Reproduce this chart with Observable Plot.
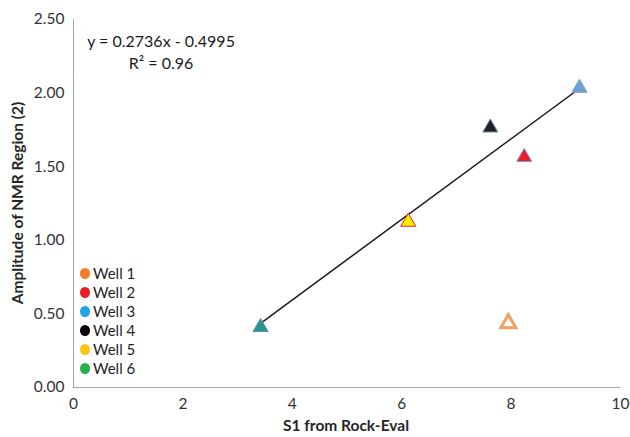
<!DOCTYPE html>
<html>
<head>
<meta charset="utf-8">
<script src="https://cdn.jsdelivr.net/npm/d3@7"></script>
<script src="https://cdn.jsdelivr.net/npm/@observablehq/plot@0.6"></script>
<style>
  html, body { margin: 0; padding: 0; background: #fff; }
  #chart { position: relative; width: 630px; height: 437px; font-family: Lato, "Open Sans", sans-serif; }
  #legend { position: absolute; left: 80px; top: 264px; font-size: 15px; color: #1f1f1f; }
  #legend div { height: 19px; line-height: 19px; display: flex; align-items: center; }
  #legend span.sw { width: 10px; height: 11px; border-radius: 50%; display: inline-block; margin-right: 3px; }
</style>
</head>
<body>
<div id="chart"></div>
<script>
// Wells and their measurements: S1 (Rock-Eval) vs NMR region (2) amplitude
const wells = ["Well 1", "Well 2", "Well 3", "Well 4", "Well 5", "Well 6"];
const legendColors = ["#f47b2a", "#ed1c24", "#1ca4e4", "#000000", "#ffc20e", "#22b14c"];

const s1 = [7.95, 8.24, 9.25, 7.62, 6.12, 3.42];
const nmr = [0.435, 1.565, 2.035, 1.765, 1.125, 0.41];
const fills = ["none", "#ed1c24", "#6f9fd6", "#231f20", "#fff200", "#2e9488"];
const strokes = ["#f0a060", "#7a9cc8", "#7a9cc8", "#6d8fc4", "#ed1c24", "#5f8fb8"];
const strokeWidths = [3, 1, 1, 1, 1, 1];

// Trendline fitted through wells 2-6
const slope = 0.2736;
const intercept = -0.4995;
const r2 = 0.96;

const xTicks = [0, 2, 4, 6, 8, 10];
const yTicks = [0, 0.5, 1, 1.5, 2, 2.5];

const points = wells.map((w, i) => ({
  well: w, x: s1[i], y: nmr[i], fill: fills[i], stroke: strokes[i], sw: strokeWidths[i]
}));

const fitted = points.filter(p => p.well !== "Well 1");
const x0 = d3.min(fitted, p => p.x);
const x1 = d3.max(fitted, p => p.x);
const trend = [x0, x1].map(x => ({x, y: slope * x + intercept}));

const equation = intercept < 0 ? `y = ${slope}x - ${Math.abs(intercept)}` : `y = ${slope}x + ${intercept}`;

const chart = Plot.plot({
  width: 630,
  height: 437,
  marginLeft: 73,
  marginRight: 10,
  marginTop: 19,
  marginBottom: 50,
  style: { fontFamily: "Lato, 'Open Sans', sans-serif", fontSize: "15px", color: "#404040", background: "#fff" },
  x: { domain: [0, 10], ticks: xTicks, tickSize: 0, tickPadding: 10, tickFormat: d3.format("d"), label: null },
  y: { domain: [0, 2.5], ticks: yTicks, tickSize: 0, tickPadding: 9, tickFormat: d3.format(".2f"), label: null },
  marks: [
    Plot.ruleX([0], { stroke: "#a6a6a6", strokeWidth: 1 }),
    Plot.ruleY([0], { stroke: "#a6a6a6", strokeWidth: 1 }),
    Plot.axisX({ ticks: xTicks, tickSize: 0, tickPadding: 10, tickFormat: d3.format("d"), label: null, fill: "#333333", fontSize: 15.5 }),
    Plot.axisY({ ticks: yTicks, tickSize: 0, tickPadding: 9, tickFormat: d3.format(".2f"), label: null, fill: "#333333", fontSize: 15.5 }),
    Plot.line(trend, { x: "x", y: "y", stroke: "#1a1a1a", strokeWidth: 1.5 }),
    Plot.dot(points, {
      x: "x", y: "y", symbol: "triangle", r: 5.6,
      fill: d => d.fill, stroke: d => d.stroke, strokeWidth: d => d.sw
    }),
    Plot.text([{x: 1.6, y: 2.358}], {
      x: "x", y: "y", text: () => `${equation}\nR² = ${r2}`,
      fontSize: 16, fill: "#1a1a1a", lineHeight: 1.38, textAnchor: "middle", lineAnchor: "middle", dy: 11
    })
  ]
});

const root = document.getElementById("chart");
root.appendChild(chart);

// Axis titles
const svg = d3.select(chart);
svg.append("text")
  .attr("x", 346).attr("y", 431)
  .attr("text-anchor", "middle")
  .attr("font-weight", "bold").attr("font-size", 15.5).attr("fill", "#262626")
  .text("S1 from Rock-Eval");
svg.append("text")
  .attr("transform", "translate(23,203) rotate(-90)")
  .attr("text-anchor", "middle")
  .attr("font-weight", "bold").attr("font-size", 15.5).attr("fill", "#262626")
  .text("Amplitude of NMR Region (2)");

// Legend
const legend = d3.select(root).append("div").attr("id", "legend");
wells.forEach((w, i) => {
  const row = legend.append("div");
  row.append("span").attr("class", "sw").style("background", legendColors[i]);
  row.append("span").text(w);
});
</script>
</body>
</html>
